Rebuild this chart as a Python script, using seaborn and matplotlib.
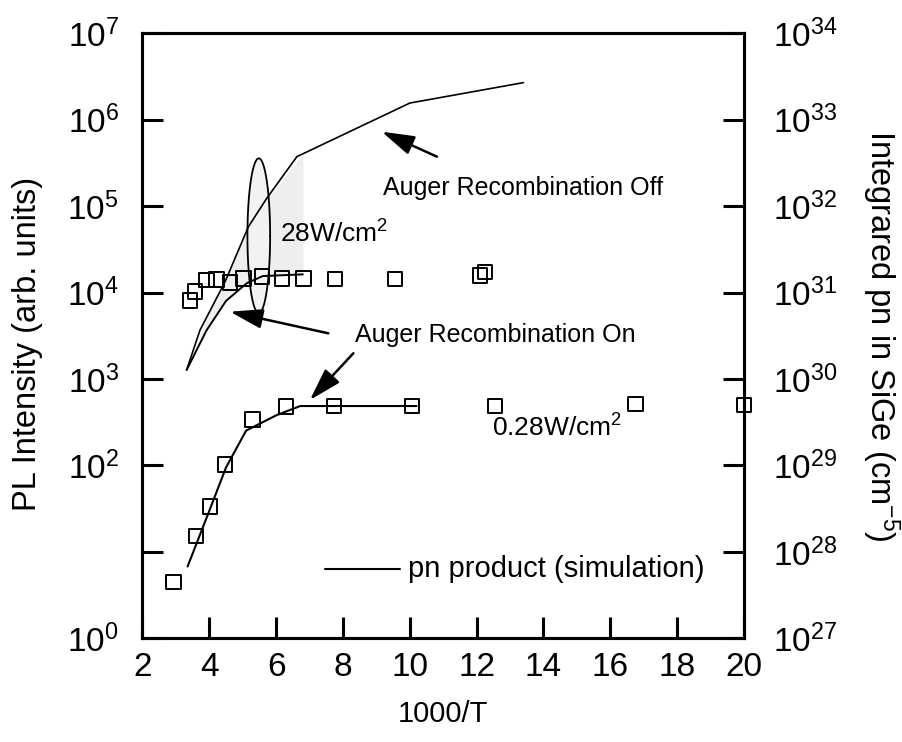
import numpy as np
import pandas as pd
import matplotlib
matplotlib.use("Agg")
import matplotlib.pyplot as plt
import seaborn as sns
from matplotlib.ticker import FixedLocator, FixedFormatter, NullLocator

# ---------------- data ----------------
# 0.28 W/cm^2 measured PL intensity (squares)
low_x = [2.92, 3.60, 4.02, 4.47, 5.30, 6.30, 7.73, 10.06, 12.55, 16.75, 20.0]
low_y = [4.5, 15.3, 33.4, 103, 342, 478, 487, 487, 487, 514, 500]
# 28 W/cm^2 measured PL intensity (squares)
high_x = [3.42, 3.57, 3.92, 4.22, 4.62, 5.02, 5.57, 6.17, 6.81, 7.76, 9.55, 12.10, 12.25]
high_y = [8040, 10200, 13960, 14100, 12970, 14600, 15230, 14600, 14600, 14300, 14300, 15800, 17300]
# pn product simulation, 0.28 W/cm^2
sim_low_x = [3.35, 4.0, 4.5, 5.10, 6.0, 6.72, 10.2]
sim_low_y = [6.8, 30, 95, 253, 380, 487, 487]
# pn product simulation, 28 W/cm^2, Auger recombination off
sim_off_x = [3.32, 3.72, 4.47, 5.17, 5.72, 6.62, 10.0, 13.4]
sim_off_y = [1270, 3670, 13300, 57700, 123000, 372000, 1.55e6, 2.67e6]
# pn product simulation, 28 W/cm^2, Auger recombination on
sim_on_x = [3.32, 3.92, 4.50, 5.12, 5.60, 6.80]
sim_on_y = [1270, 3670, 8000, 12800, 15500, 16200]

left_ticks = [1e0, 1e1, 1e2, 1e3, 1e4, 1e5, 1e6, 1e7]
left_labels = [r"$\mathregular{10^{0}}$", "", r"$\mathregular{10^{2}}$", r"$\mathregular{10^{3}}$",
               r"$\mathregular{10^{4}}$", r"$\mathregular{10^{5}}$", r"$\mathregular{10^{6}}$",
               r"$\mathregular{10^{7}}$"]
right_ticks = [1e27, 1e28, 1e29, 1e30, 1e31, 1e32, 1e33, 1e34]
right_labels = [r"$\mathregular{10^{%d}}$" % e for e in range(27, 35)]
x_ticks = [2, 4, 6, 8, 10, 12, 14, 16, 18, 20]

# ---------------- style ----------------
sns.set_style("ticks")
plt.rcParams["font.family"] = ["Liberation Sans", "DejaVu Sans"]
plt.rcParams["mathtext.fontset"] = "custom"
plt.rcParams["mathtext.rm"] = "Liberation Sans"
plt.rcParams["mathtext.it"] = "Liberation Sans:italic"
plt.rcParams["mathtext.bf"] = "Liberation Sans:bold"
for k in ("text.color", "axes.labelcolor", "xtick.color", "ytick.color", "axes.edgecolor"):
    plt.rcParams[k] = "black"

fig = plt.figure(figsize=(9.03, 7.42), dpi=100)
ax = fig.add_axes([0.1578, 0.1395, 0.6661, 0.8160])

# shaded region between the two high-excitation simulations
xs_fill = np.array(sim_on_x)
off_interp = 10 ** np.interp(xs_fill, sim_off_x, np.log10(sim_off_y))
ax.fill_between(xs_fill, sim_on_y, off_interp, color="#eeeeee", lw=0, zorder=0)

# ellipse around the 28 W/cm^2 curves (drawn in log space)
t = np.linspace(0, 2 * np.pi, 200)
ex = 5.48 + 0.34 * np.cos(t)
ey = 10 ** (4.656 + 0.895 * np.sin(t))
ax.fill(ex, ey, color="#f2f2f2", lw=0, zorder=0)
ax.plot(ex, ey, color="black", lw=1.3, zorder=2)

lw = 1.5
sns.lineplot(x=sim_low_x, y=sim_low_y, ax=ax, color="black", lw=lw, sort=False, estimator=None)
sns.lineplot(x=sim_off_x, y=sim_off_y, ax=ax, color="black", lw=1.2, sort=False, estimator=None)
sns.lineplot(x=sim_on_x, y=sim_on_y, ax=ax, color="black", lw=1.4, sort=False, estimator=None)

sq = dict(marker="s", s=110, facecolor="none", edgecolor="black", linewidth=1.4, ax=ax, zorder=3, clip_on=False)
sns.scatterplot(x=low_x, y=low_y, **sq)
sns.scatterplot(x=high_x, y=high_y, **sq)

ax.set_yscale("log")
ax.set_xlim(2, 20)
ax.set_ylim(1, 1e7)

ax.xaxis.set_major_locator(FixedLocator(x_ticks))
ax.yaxis.set_major_locator(FixedLocator(left_ticks))
ax.yaxis.set_major_formatter(FixedFormatter(left_labels))
ax.yaxis.set_minor_locator(NullLocator())
ax.tick_params(axis="both", direction="in", length=15, width=2.2, labelsize=24, color="black")
ax.tick_params(axis="x", pad=10)
ax.tick_params(axis="y", pad=17, right=False)

ax.set_xlabel("1000/T", fontsize=21, labelpad=12)
ax.set_ylabel("PL Intensity (arb. units)", fontsize=23.5)
ax.yaxis.set_label_coords(-0.1654, 0.487)

ax2 = ax.twinx()
ax2.set_yscale("log")
ax2.set_ylim(1e27, 1e34)
ax2.yaxis.set_major_locator(FixedLocator(right_ticks))
ax2.yaxis.set_major_formatter(FixedFormatter(right_labels))
ax2.yaxis.set_minor_locator(NullLocator())
ax2.tick_params(axis="y", direction="in", length=15, width=2.2, labelsize=24, pad=21)
ax2.set_ylabel("Integrared pn in SiGe (cm$^{-5}$)", fontsize=23.5, rotation=270, va="bottom")
ax2.yaxis.set_label_coords(1.193, 0.5)

for a in (ax, ax2):
    for s in a.spines.values():
        s.set_linewidth(2.2)
        s.set_color("black")

# annotations
ap = dict(arrowstyle="-|>,head_length=1.0,head_width=0.3", color="black", lw=1.8,
          mutation_scale=20, shrinkA=0, shrinkB=0)
ax.annotate("", xy=(9.16, 7.23e5), xytext=(10.81, 3.72e5), arrowprops=ap)
ax.annotate("", xy=(4.62, 6000), xytext=(7.56, 3376), arrowprops=ap)
ax.annotate("", xy=(7.01, 572), xytext=(8.31, 1983), arrowprops=ap)

ax.text(9.2, 1.6e5, "Auger Recombination Off", fontsize=18, ha="left", va="center")
ax.text(8.36, 3220, "Auger Recombination On", fontsize=18, ha="left", va="center")
ax.text(6.12, 37300, "28W/cm$^{2}$", fontsize=19, ha="left", va="baseline")
ax.text(12.45, 215, "0.28W/cm$^{2}$", fontsize=19, ha="left", va="baseline")

# legend-like key for the simulation line
ax.plot([7.46, 9.71], [6.3, 6.3], color="black", lw=lw)
ax.text(9.95, 6.3, "pn product (simulation)", fontsize=21, ha="left", va="center")

fig.savefig("out.png", dpi=100)
